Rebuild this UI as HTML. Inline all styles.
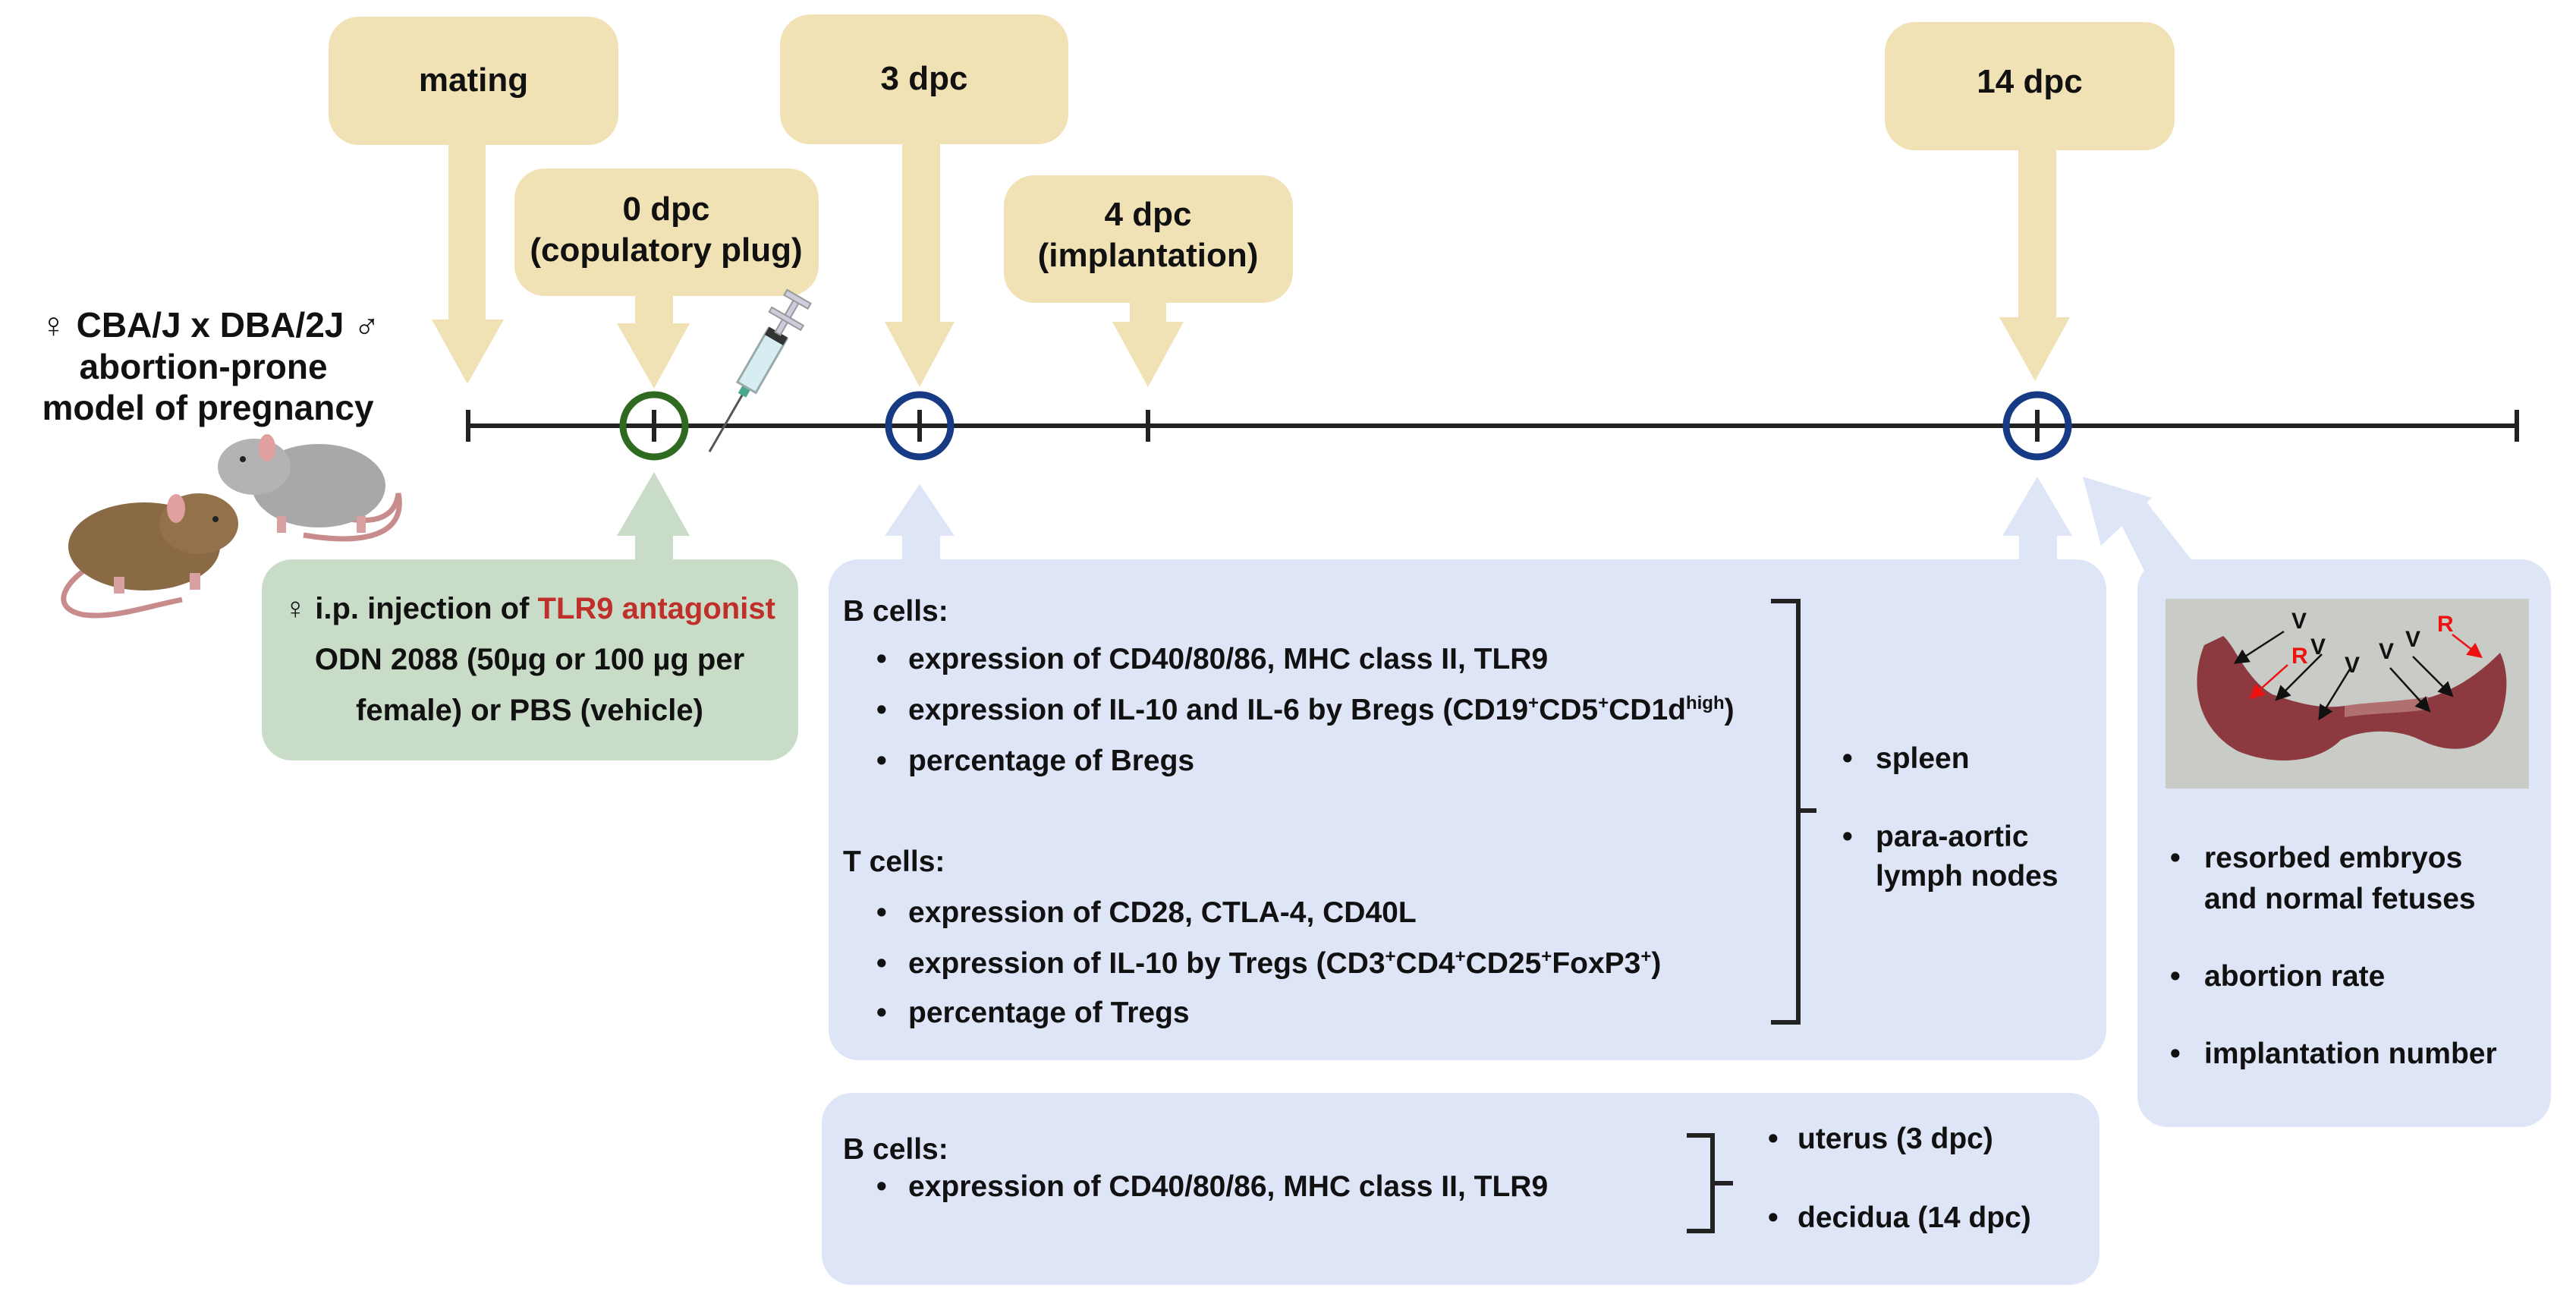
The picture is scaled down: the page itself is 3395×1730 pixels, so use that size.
<!DOCTYPE html>
<html><head><meta charset="utf-8"><style>
html,body{margin:0;padding:0;background:#fff;}
svg{display:block;}
text{font-family:"Liberation Sans",sans-serif;font-weight:bold;fill:#111;}
</style></head><body>
<svg width="3395" height="1730" viewBox="0 0 3395 1730" xmlns="http://www.w3.org/2000/svg">
<defs>
<marker id="ah" markerWidth="8" markerHeight="8" refX="6" refY="4" orient="auto"><path d="M0,0 L8,4 L0,8 Z" fill="#111"/></marker>
<marker id="ahr" markerWidth="8" markerHeight="8" refX="6" refY="4" orient="auto"><path d="M0,0 L8,4 L0,8 Z" fill="#e11"/></marker>
</defs>
<!-- yellow boxes and arrows -->
<g fill="#f1e2b6">
<rect x="433" y="22" width="382" height="169" rx="40"/>
<rect x="591" y="190" width="49" height="232"/>
<polygon points="569,421 664,421 616,506"/>
<rect x="678" y="222" width="401" height="168" rx="40"/>
<rect x="837" y="389" width="50" height="38"/>
<polygon points="813,426 909,426 862,512"/>
<rect x="1028" y="19" width="380" height="171" rx="40"/>
<rect x="1189" y="189" width="50" height="236"/>
<polygon points="1166,424 1258,424 1212,510"/>
<rect x="1323" y="231" width="381" height="168" rx="40"/>
<rect x="1489" y="398" width="48" height="27"/>
<polygon points="1466,424 1560,424 1513,510"/>
<rect x="2484" y="29" width="382" height="169" rx="40"/>
<rect x="2660" y="197" width="50" height="222"/>
<polygon points="2635,418 2728,418 2682,502"/>
</g>
<g font-size="44" text-anchor="middle">
<text x="624" y="120">mating</text>
<text x="1218" y="118">3 dpc</text>
<text x="878" y="290">0 dpc</text>
<text x="878" y="344">(copulatory plug)</text>
<text x="1513" y="297">4 dpc</text>
<text x="1513" y="351">(implantation)</text>
<text x="2675" y="122">14 dpc</text>
</g>
<!-- timeline -->
<g stroke="#222" stroke-width="6" fill="none">
<line x1="617" y1="561" x2="3317" y2="561"/>
<line x1="617" y1="540" x2="617" y2="582"/>
<line x1="1513" y1="540" x2="1513" y2="582"/>
<line x1="3317" y1="540" x2="3317" y2="582"/>
<line x1="862" y1="540" x2="862" y2="582"/>
<line x1="1212" y1="540" x2="1212" y2="582"/>
<line x1="2685" y1="540" x2="2685" y2="582"/>
</g>
<circle cx="862" cy="561" r="41" fill="none" stroke="#2f6a21" stroke-width="9"/>
<circle cx="1212" cy="561" r="41" fill="none" stroke="#173a85" stroke-width="9"/>
<circle cx="2685" cy="561" r="41" fill="none" stroke="#173a85" stroke-width="9"/>
<!-- syringe -->
<g transform="rotate(30 990 500)">
<line x1="990" y1="610" x2="990" y2="520" stroke="#555" stroke-width="3"/>
<rect x="984" y="510" width="12" height="14" fill="#4aa88a"/>
<rect x="976" y="430" width="28" height="82" fill="#d6eef2" stroke="#9aa" stroke-width="3"/>
<rect x="976" y="428" width="28" height="12" fill="#333"/>
<rect x="986" y="380" width="8" height="50" fill="#ccd" stroke="#999" stroke-width="2"/>
<rect x="966" y="404" width="48" height="7" fill="#ccd" stroke="#999" stroke-width="2"/>
<rect x="972" y="374" width="36" height="8" fill="#ccd" stroke="#999" stroke-width="2"/>
</g>
<!-- left text -->
<g font-size="46" text-anchor="middle">
<text x="277" y="444">♀ CBA/J  x  DBA/2J ♂</text>
<text x="268" y="499">abortion-prone</text>
<text x="274" y="553">model of pregnancy</text>
</g>
<!-- mice -->
<g>
<path d="M440,680 C480,690 520,690 525,650 C535,700 490,720 400,705" fill="none" stroke="#c98c8c" stroke-width="7"/>
<ellipse cx="420" cy="640" rx="88" ry="55" fill="#a8a8a8"/>
<ellipse cx="335" cy="615" rx="48" ry="37" fill="#b3b3b3"/>
<ellipse cx="352" cy="590" rx="11" ry="18" fill="#e0a0a0"/>
<rect x="365" y="680" width="12" height="22" fill="#d8a0a0"/>
<rect x="470" y="680" width="12" height="22" fill="#d8a0a0"/>
<path d="M130,740 C90,760 60,800 110,810 C150,815 190,800 240,790" fill="none" stroke="#c98c8c" stroke-width="7"/>
<ellipse cx="190" cy="720" rx="100" ry="58" fill="#8a6a45"/>
<ellipse cx="262" cy="690" rx="52" ry="40" fill="#93714b"/>
<ellipse cx="232" cy="670" rx="12" ry="19" fill="#e0a0a0"/>
<rect x="150" y="760" width="14" height="22" fill="#d8a0a0"/>
<rect x="250" y="755" width="14" height="22" fill="#d8a0a0"/>
<circle cx="284" cy="684" r="4" fill="#222"/>
<circle cx="320" cy="605" r="4" fill="#222"/>
</g>
<!-- green box -->
<g fill="#c9dcc8">
<polygon points="862,622 909,706 813,706"/>
<rect x="837" y="704" width="50" height="36"/>
<rect x="345" y="737" width="707" height="265" rx="40"/>
</g>
<g font-size="40" text-anchor="middle">
<text x="698" y="815">♀ i.p. injection of <tspan fill="#c0302a">TLR9 antagonist</tspan></text>
<text x="698" y="882">ODN 2088 (50µg or 100 µg per</text>
<text x="698" y="949">female) or PBS (vehicle)</text>
</g>
<!-- blue boxes -->
<g fill="#dde5f7">
<polygon points="1212,638 1258,706 1166,706"/>
<rect x="1189" y="704" width="50" height="36"/>
<polygon points="2685,628 2731,706 2639,706"/>
<rect x="2661" y="704" width="50" height="36"/>
<polygon points="2745,628 2836,656 2769,719"/>
<polygon points="2790,680 2820,650 2890,740 2830,760"/>
<rect x="1092" y="737" width="1684" height="660" rx="40"/>
<rect x="1083" y="1440" width="1684" height="253" rx="40"/>
<rect x="2817" y="737" width="545" height="748" rx="40"/>
</g>
<!-- photo -->
<rect x="2854" y="789" width="479" height="250" fill="#c9ccc6"/>
<path d="M2905,850 C2885,900 2895,960 2950,990 C3000,1010 3055,1005 3085,975 C3115,960 3160,960 3190,975 C3240,1000 3290,985 3300,930 C3308,895 3300,870 3295,860 C3275,880 3245,905 3205,918 C3160,930 3120,930 3090,930 C3055,935 3025,925 2995,915 C2960,895 2945,850 2930,838 Z" fill="#8c3a40"/>
<path d="M3090,930 C3120,925 3160,925 3200,918 L3200,935 C3160,940 3120,940 3090,945 Z" fill="#b07070"/>
<g stroke="#111" stroke-width="2.5" fill="none" marker-end="url(#ah)">
<line x1="3010" y1="832" x2="2948" y2="872"/>
<line x1="3060" y1="862" x2="3002" y2="920"/>
<line x1="3098" y1="880" x2="3058" y2="945"/>
<line x1="3150" y1="880" x2="3200" y2="935"/>
<line x1="3180" y1="865" x2="3230" y2="915"/>
</g>
<g stroke="#e11" stroke-width="2.5" marker-end="url(#ahr)"><line x1="3015" y1="876" x2="2968" y2="918"/><line x1="3232" y1="836" x2="3268" y2="864"/></g>
<g font-size="30">
<text x="3020" y="828">V</text><text x="3045" y="862">V</text><text x="3090" y="886">V</text><text x="3135" y="868">V</text><text x="3170" y="852">V</text>
<text x="3020" y="874" style="fill:#e11">R</text><text x="3212" y="832" style="fill:#e11">R</text>
</g>
<!-- big box text -->
<g font-size="39">
<text x="1111" y="818">B cells:</text>
<text x="1111" y="1148">T cells:</text>
<text x="2428" y="1012">•</text><text x="2472" y="1012">spleen</text>
<text x="2428" y="1115">•</text><text x="2472" y="1115">para-aortic</text>
<text x="2472" y="1167">lymph nodes</text>
</g>
<g font-size="39">
<text x="1155" y="881">•</text><text x="1197" y="881">expression of CD40/80/86, MHC class II, TLR9</text>
<text x="1155" y="948">•</text><text x="1197" y="948">expression of IL-10 and IL-6 by Bregs (CD19<tspan font-size="24" dy="-14">+</tspan><tspan dy="14">CD5</tspan><tspan font-size="24" dy="-14">+</tspan><tspan dy="14">CD1d</tspan><tspan font-size="24" dy="-14">high</tspan><tspan dy="14">)</tspan></text>
<text x="1155" y="1015">•</text><text x="1197" y="1015">percentage of Bregs</text>
<text x="1155" y="1215">•</text><text x="1197" y="1215">expression of CD28, CTLA-4, CD40L</text>
<text x="1155" y="1282">•</text><text x="1197" y="1282">expression of IL-10 by Tregs (CD3<tspan font-size="24" dy="-14">+</tspan><tspan dy="14">CD4</tspan><tspan font-size="24" dy="-14">+</tspan><tspan dy="14">CD25</tspan><tspan font-size="24" dy="-14">+</tspan><tspan dy="14">FoxP3</tspan><tspan font-size="24" dy="-14">+</tspan><tspan dy="14">)</tspan></text>
<text x="1155" y="1347">•</text><text x="1197" y="1347">percentage of Tregs</text>
</g>
<path d="M2334,792 H2370 V1347 H2334 M2370,1068 H2394" fill="none" stroke="#222" stroke-width="6"/>
<!-- bottom box -->
<g font-size="39">
<text x="1111" y="1527">B cells:</text>
<text x="1155" y="1576">•</text><text x="1197" y="1576">expression of CD40/80/86, MHC class II, TLR9</text>
<text x="2330" y="1513">•</text><text x="2369" y="1513">uterus (3 dpc)</text>
<text x="2330" y="1617">•</text><text x="2369" y="1617">decidua (14 dpc)</text>
</g>
<path d="M2223,1496 H2257 V1622 H2223 M2257,1559 H2284" fill="none" stroke="#222" stroke-width="6"/>
<!-- right box text -->
<g font-size="39">
<text x="2860" y="1143">•</text><text x="2905" y="1143">resorbed embryos</text>
<text x="2905" y="1197">and normal fetuses</text>
<text x="2860" y="1299">•</text><text x="2905" y="1299">abortion rate</text>
<text x="2860" y="1401">•</text><text x="2905" y="1401">implantation number</text>
</g>
</svg>
</body></html>
